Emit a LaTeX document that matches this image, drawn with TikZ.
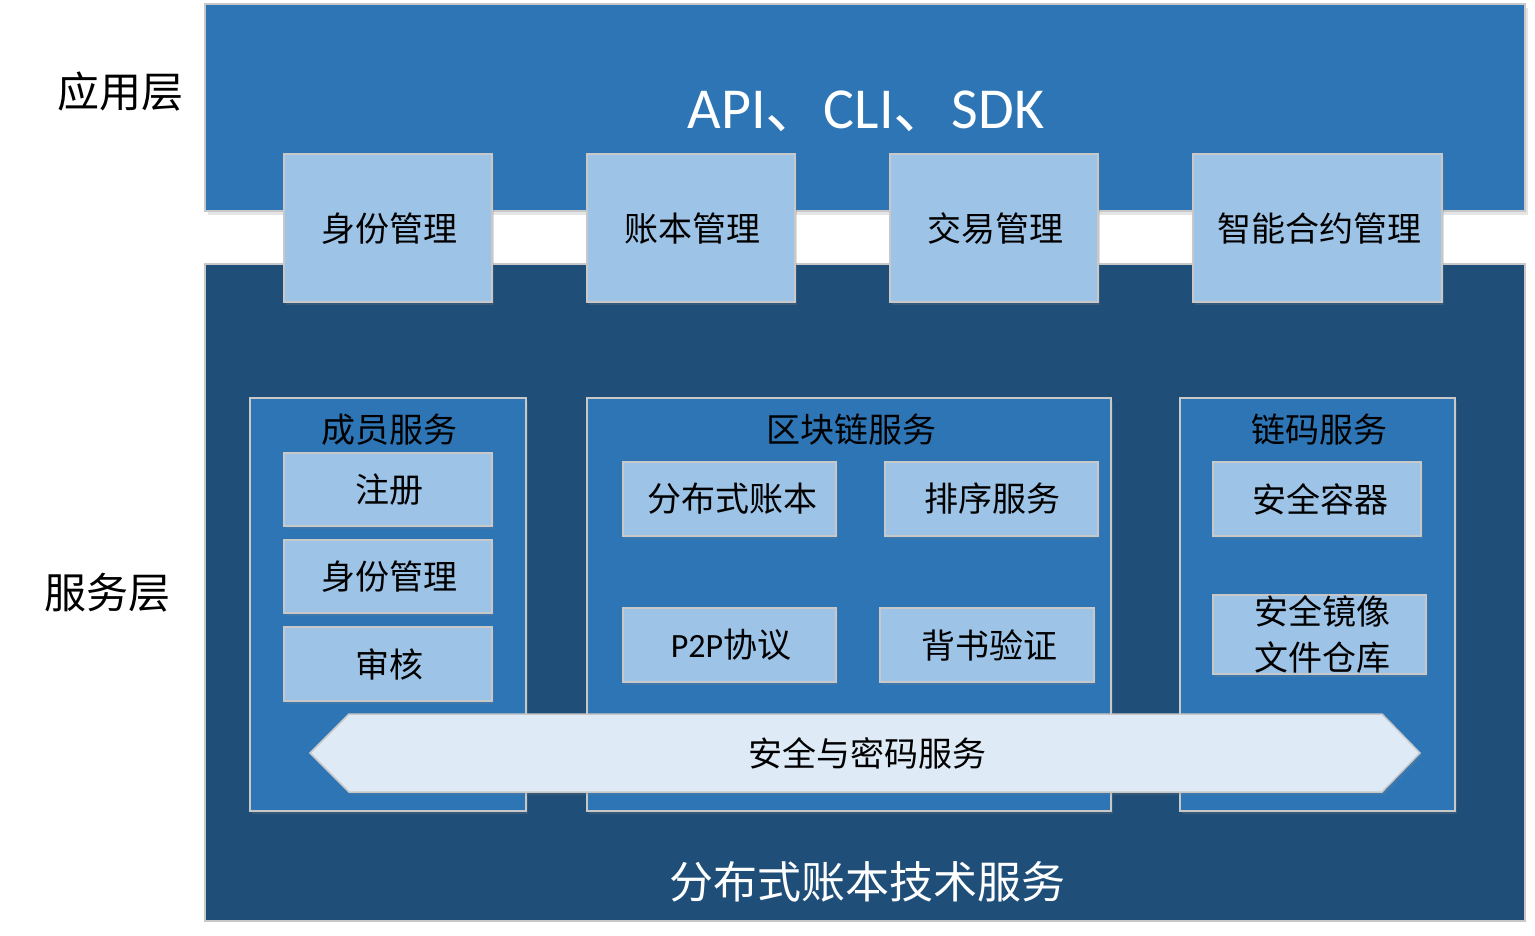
\documentclass[tikz,border=0pt]{standalone}
\usepackage{fontspec}
\setmainfont{Noto Sans CJK SC}
\newfontfamily\latfont{Carlito}
\usetikzlibrary{shadows}
\definecolor{topblue}{HTML}{2E75B6}
\definecolor{darkblue}{HTML}{1F4E79}
\definecolor{lightblue}{HTML}{9DC3E6}
\definecolor{paleblue}{HTML}{DEEBF7}
\definecolor{edgegray}{HTML}{C8C8C8}
\tikzset{
  band/.style={draw=edgegray, line width=1.5pt},
  topbox/.style={draw=edgegray, line width=1.5pt, fill=lightblue, drop shadow={opacity=0.25, shadow xshift=2pt, shadow yshift=-3pt}},
  groupbox/.style={draw=edgegray, line width=1.5pt, fill=topblue, drop shadow={opacity=0.25, shadow xshift=2pt, shadow yshift=-3pt}},
  innerbox/.style={draw=edgegray, line width=1.5pt, fill=lightblue, drop shadow={opacity=0.2, shadow xshift=2pt, shadow yshift=-3pt}},
  lbl/.style={font=\fontsize{34}{40}\selectfont, text=black},
  side/.style={font=\fontsize{42}{48}\selectfont, text=black},
}
\begin{document}
\begin{tikzpicture}[x=1pt,y=-1pt]
\useasboundingbox (0,0) rectangle (1535,936);
% bands
\fill[black!10] (208,8) rectangle (1528,215);
\draw[band, fill=topblue] (205,4) rectangle (1525,211);
\draw[band, fill=darkblue] (205,264) rectangle (1525,921);
\node[side] (app) at (120,92) {应用层};
\node[side] (svc) at (107,593) {服务层};
\node[text=white, font=\fontsize{58}{64}\selectfont] (api) at (866,111) {{\latfont API}、{\latfont CLI}、{\latfont SDK}};
\node[text=white, font=\fontsize{44}{50}\selectfont] (dlt) at (867,882) {分布式账本技术服务};
% top boxes
\draw[topbox] (284,154) rectangle (492,302); \node[lbl] (t1) at (389,229) {身份管理};
\draw[topbox] (587,154) rectangle (795,302); \node[lbl] (t2) at (692,229) {账本管理};
\draw[topbox] (890,154) rectangle (1098,302); \node[lbl] (t3) at (995,229) {交易管理};
\draw[topbox] (1193,154) rectangle (1442,302); \node[lbl] (t4) at (1319,229) {智能合约管理};
% groups
\draw[groupbox] (250,398) rectangle (526,811); \node[lbl] (g1) at (389,430) {成员服务};
\draw[groupbox] (587,398) rectangle (1111,811); \node[lbl] (g2) at (851,430) {区块链服务};
\draw[groupbox] (1180,398) rectangle (1455,811); \node[lbl] (g3) at (1319,430) {链码服务};
% member inner
\draw[innerbox] (284,453) rectangle (492,526); \node[lbl] (m1) at (389,490) {注册};
\draw[innerbox] (284,540) rectangle (492,613); \node[lbl] (m2) at (389,577) {身份管理};
\draw[innerbox] (284,627) rectangle (492,701); \node[lbl] (m3) at (389,664) {审核};
% blockchain inner
\draw[innerbox] (623,462) rectangle (836,536); \node[lbl] (b1) at (732,499) {分布式账本};
\draw[innerbox] (885,462) rectangle (1098,536); \node[lbl] (b2) at (992,499) {排序服务};
\draw[innerbox] (623,608) rectangle (836,682); \node[lbl] (b3) at (731,645) {{\latfont P2P}协议};
\draw[innerbox] (880,608) rectangle (1094,682); \node[lbl] (b4) at (989,645) {背书验证};
% chaincode inner
\draw[innerbox] (1213,462) rectangle (1421,536); \node[lbl] (c1) at (1320,499) {安全容器};
\draw[innerbox] (1213,595) rectangle (1426,674);
\node[lbl, align=center, font=\fontsize{34}{46}\selectfont] (c2) at (1322,634) {安全镜像\\文件仓库};
% arrow
\draw[innerbox, fill=paleblue] (310,753) -- (349,714) -- (1382,714) -- (1420,753) -- (1382,792) -- (349,792) -- cycle;
\node[lbl] (sec) at (867,753) {安全与密码服务};
\end{tikzpicture}
\end{document}
